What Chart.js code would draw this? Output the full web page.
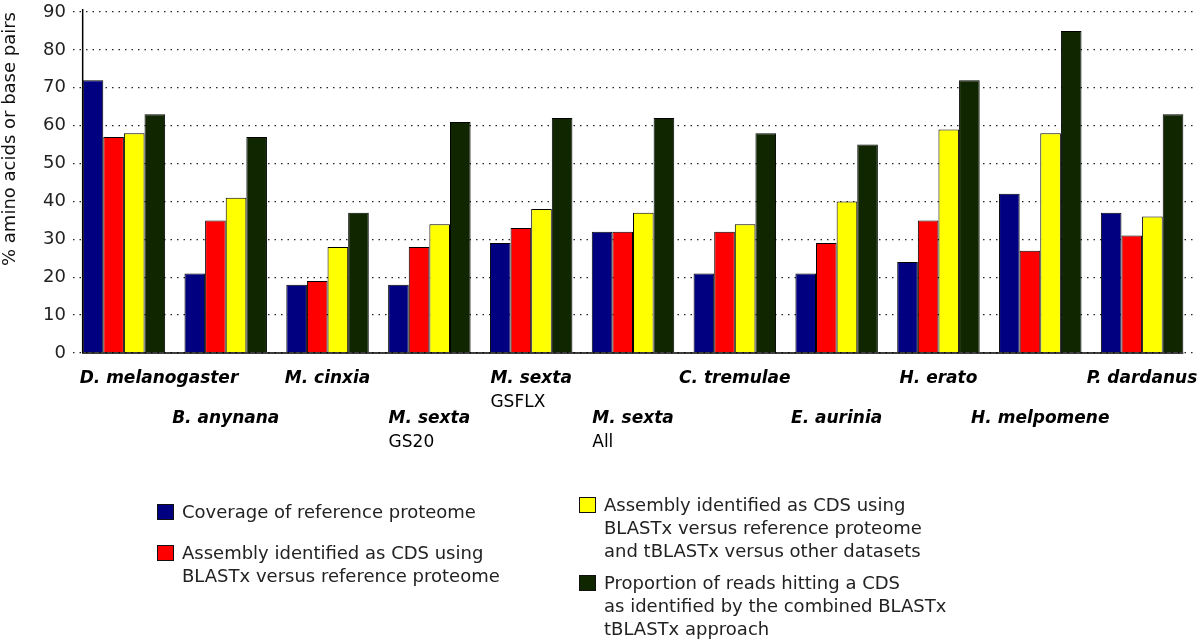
<!DOCTYPE html>
<html>
<head>
<meta charset="utf-8">
<script src="https://cdn.jsdelivr.net/npm/chart.js@4.4.1/dist/chart.umd.min.js"></script>
<style>
  body { margin: 0; background: #fff; }
  #wrap { position: relative; width: 1200px; height: 643px; }
  .legend { position: absolute; font-family: "DejaVu Sans", sans-serif; font-size: 18px; line-height: 23px; color: #222; white-space: nowrap; }
  .swatch { position: absolute; width: 15px; height: 14px; border: 1px solid #111; }
</style>
</head>
<body>
<div id="wrap">
  <canvas id="chart" width="1200" height="643"></canvas>
  <div id="legend"></div>
</div>
<script>
// species and the second label line (dataset)
const categories = ['D. melanogaster', 'B. anynana', 'M. cinxia', 'M. sexta', 'M. sexta', 'M. sexta',
    'C. tremulae', 'E. aurinia', 'H. erato', 'H. melpomene', 'P. dardanus'];
const subLabels = ['', '', '', 'GS20', 'GSFLX', 'All', '', '', '', '', ''];

// % amino acids or base pairs
const coverage = [72, 21, 18, 18, 29, 32, 21, 21, 24, 42, 37];
const blastxCds = [57, 35, 19, 28, 33, 32, 32, 29, 35, 27, 31];
const combinedCds = [58, 41, 28, 34, 38, 37, 34, 40, 59, 58, 36];
const readsHitting = [63, 57, 37, 61, 62, 62, 58, 55, 72, 85, 63];

const yTicks = [0, 10, 20, 30, 40, 50, 60, 70, 80, 90];

const seriesNames = [
    ['Coverage of reference proteome'],
    ['Assembly identified as CDS using', 'BLASTx versus reference proteome'],
    ['Assembly identified as CDS using', 'BLASTx versus reference proteome', 'and tBLASTx versus other datasets'],
    ['Proportion of reads hitting a CDS', 'as identified by the combined BLASTx', 'tBLASTx approach']
];
const seriesColors = ['#000080', '#ff0000', '#ffff00', '#0f2600'];

const axisAndLabels = {
    id: 'axisAndLabels',
    afterDatasetsDraw(chart) {
        const ctx = chart.ctx;
        const xs = chart.scales.x;
        const ys = chart.scales.y;
        const first = chart.getDatasetMeta(0).data[0];
        const last = chart.getDatasetMeta(3).data[categories.length - 1];
        const left = first.x - first.width / 2;
        const right = last.x + last.width / 2;
        const top = ys.getPixelForValue(yTicks[yTicks.length - 1]) - 3;
        const zero = ys.getPixelForValue(0);

        ctx.save();
        ctx.strokeStyle = '#000';
        ctx.lineWidth = 1.5;
        ctx.beginPath();
        ctx.moveTo(left, top);
        ctx.lineTo(left, zero);
        ctx.lineTo(right, zero);
        ctx.stroke();

        ctx.fillStyle = '#000';
        ctx.textBaseline = 'alphabetic';
        ctx.textAlign = 'left';
        categories.forEach((name, i) => {
            const cx = xs.getPixelForValue(i);
            const base = zero + (i % 2 ? 70 : 30);
            ctx.font = 'italic bold 17px "DejaVu Sans"';
            const w = ctx.measureText(name).width;
            const x = Math.max(cx - w / 2, left - 3);
            ctx.fillText(name, x, base);
            if (subLabels[i]) {
                ctx.font = '17px "DejaVu Sans"';
                ctx.fillText(subLabels[i], x, base + 24);
            }
        });
        ctx.restore();
    }
};

const datasets = [coverage, blastxCds, combinedCds, readsHitting].map((values, k) => ({
    label: seriesNames[k].join(' '),
    data: values,
    backgroundColor: seriesColors[k],
    borderColor: '#000',
    borderWidth: 1,
    barPercentage: 1.0,
    categoryPercentage: 0.81
}));

new Chart(document.getElementById('chart'), {
    type: 'bar',
    data: { labels: categories, datasets: datasets },
    options: {
        responsive: false,
        animation: false,
        layout: { padding: { top: 12, right: 7, left: 0, bottom: 0 } },
        plugins: { legend: { display: false }, tooltip: { enabled: false } },
        scales: {
            x: {
                ticks: { display: false },
                grid: { display: false },
                border: { display: false },
                afterFit: s => { s.height = 290; }
            },
            y: {
                min: yTicks[0],
                max: yTicks[yTicks.length - 1],
                afterBuildTicks: s => { s.ticks = yTicks.map(v => ({ value: v })); },
                afterFit: s => { s.width = 73; s.paddingTop = 0; s.paddingBottom = 0; },
                ticks: { color: '#222', padding: 7, font: { family: 'DejaVu Sans', size: 18 } },
                grid: { color: '#222', lineWidth: 1.3, drawTicks: false },
                border: { display: false, dash: [1.5, 5] },
                title: {
                    display: true,
                    text: '% amino acids or base pairs',
                    align: 'end',
                    color: '#111',
                    padding: 0,
                    font: { family: 'DejaVu Sans', size: 18 }
                }
            }
        }
    },
    plugins: [axisAndLabels]
});

// legend in two columns, as in the figure
const legendSpots = [
    { left: 157, top: 500 },
    { left: 157, top: 541 },
    { left: 579, top: 493 },
    { left: 579, top: 571 }
];
const legendBox = document.getElementById('legend');
seriesNames.forEach((lines, k) => {
    const sw = document.createElement('div');
    sw.className = 'swatch';
    sw.style.left = legendSpots[k].left + 'px';
    sw.style.top = (legendSpots[k].top + 4) + 'px';
    sw.style.background = seriesColors[k];
    legendBox.appendChild(sw);
    const txt = document.createElement('div');
    txt.className = 'legend';
    txt.style.left = (legendSpots[k].left + 25) + 'px';
    txt.style.top = legendSpots[k].top + 'px';
    txt.innerHTML = lines.join('<br>');
    legendBox.appendChild(txt);
});
</script>
</body>
</html>
